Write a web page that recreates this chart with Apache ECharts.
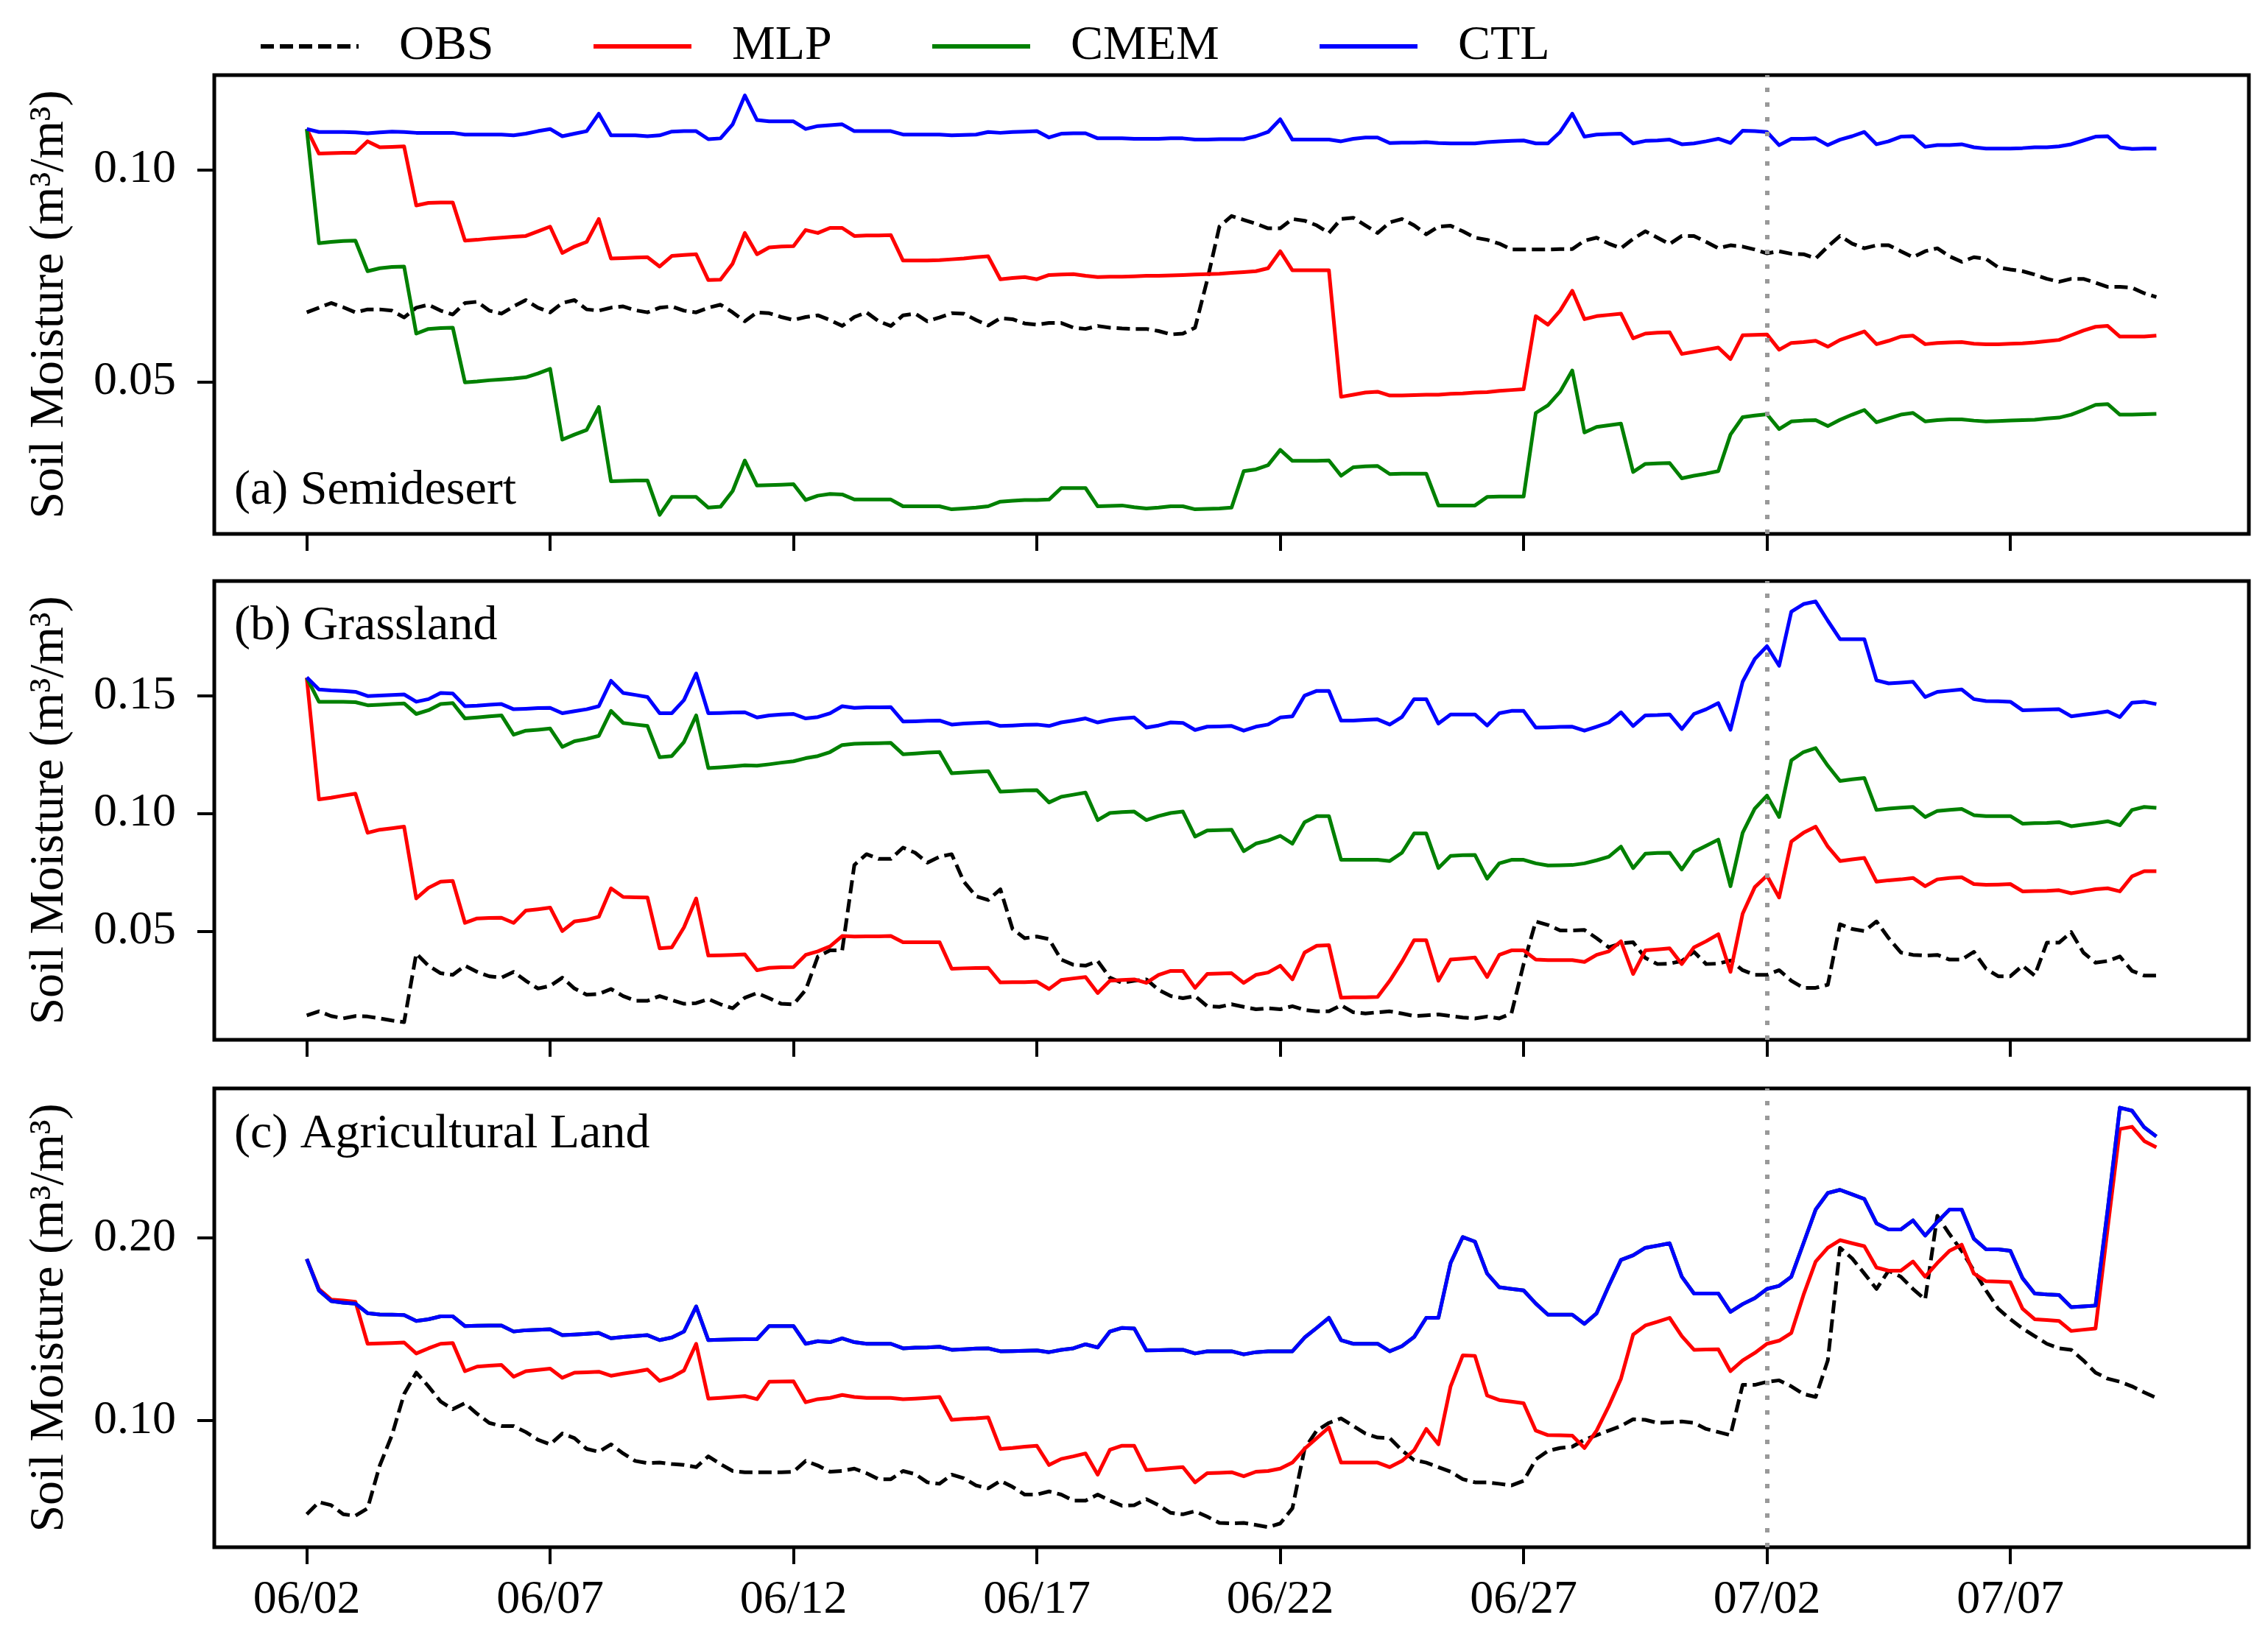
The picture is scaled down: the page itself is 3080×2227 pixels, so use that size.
<!DOCTYPE html>
<html>
<head>
<meta charset="utf-8">
<title>Soil Moisture</title>
<script src="https://cdn.jsdelivr.net/npm/echarts@6/dist/echarts.min.js"></script>
<style>
  html, body { margin: 0; padding: 0; background: #ffffff; }
  #chart { width: 3080px; height: 2227px; }
</style>
</head>
<body>
<div id="chart"></div>
<script>
// samples every 6 h, day 0 = 06/02 00:00 ... day 38 = 07/10 00:00
var STEP_DAYS = 0.25;
var N_SAMPLES = 153;
var X_TICK_DAYS = [0, 5, 10, 15, 20, 25, 30, 35];
var X_TICK_LABELS = ['06/02', '06/07', '06/12', '06/17', '06/22', '06/27', '07/02', '07/07'];
var REF_DAY = 30; // dotted line at 07/02

var SERIES_NAMES = ['OBS', 'MLP', 'CMEM', 'CTL'];
var PANEL_TITLES = ['(a) Semidesert', '(b) Grassland', '(c) Agricultural Land'];
var Y_NAME = 'Soil Moisture (m\u00b3/m\u00b3)';

var Y_TICKS_A = [0.05, 0.10];
var Y_TICKS_B = [0.05, 0.10, 0.15];
var Y_TICKS_C = [0.10, 0.20];
var Y_RANGE_A = [0.0142, 0.1223];
var Y_RANGE_B = [0.0038, 0.1988];
var Y_RANGE_C = [0.0308, 0.2818];

// ---- (a) Semidesert ----
var OBS_A = [
  0.0664, 0.0675, 0.0686, 0.0676, 0.0664, 0.0671, 0.0671, 0.0668, 0.0652, 0.0675,
  0.0682, 0.0668, 0.0659, 0.0686, 0.0689, 0.0668, 0.0661, 0.0678, 0.0693, 0.0675,
  0.0664, 0.0686, 0.0693, 0.0671, 0.0668, 0.0675, 0.0678, 0.0669, 0.0664, 0.0675,
  0.0678, 0.0668, 0.0664, 0.0675, 0.0682, 0.0664, 0.0643, 0.0664, 0.0662, 0.0653,
  0.0646, 0.0653, 0.0657, 0.0646, 0.0632, 0.0653, 0.0664, 0.0643, 0.0632, 0.0657,
  0.0661, 0.0643, 0.0652, 0.0662, 0.0661, 0.0646, 0.0633, 0.0650, 0.0648, 0.0638,
  0.0635, 0.0639, 0.0639, 0.0628, 0.0625, 0.0632, 0.0628, 0.0626, 0.0625, 0.0625,
  0.0620, 0.0612, 0.0614, 0.0628, 0.0740, 0.0866, 0.0891, 0.0882, 0.0873, 0.0862,
  0.0862, 0.0884, 0.0880, 0.0869, 0.0851, 0.0884, 0.0887, 0.0869, 0.0851, 0.0876,
  0.0884, 0.0869, 0.0848, 0.0866, 0.0868, 0.0855, 0.0840, 0.0835, 0.0826, 0.0812,
  0.0812, 0.0812, 0.0812, 0.0813, 0.0813, 0.0833, 0.0840, 0.0826, 0.0815, 0.0837,
  0.0855, 0.0840, 0.0825, 0.0844, 0.0844, 0.0830, 0.0815, 0.0822, 0.0819, 0.0812,
  0.0803, 0.0808, 0.0802, 0.0801, 0.0791, 0.0819, 0.0844, 0.0826, 0.0815, 0.0822,
  0.0822, 0.0808, 0.0794, 0.0808, 0.0815, 0.0796, 0.0783, 0.0794, 0.0790, 0.0770,
  0.0765, 0.0761, 0.0753, 0.0743, 0.0736, 0.0743, 0.0743, 0.0734, 0.0724, 0.0724,
  0.0722, 0.0709, 0.0700
];
var MLP_A = [
  0.1096, 0.1038, 0.1039, 0.1040, 0.1040, 0.1067, 0.1053, 0.1054, 0.1055, 0.0916,
  0.0922, 0.0923, 0.0923, 0.0833, 0.0835, 0.0838, 0.0840, 0.0842, 0.0844, 0.0855,
  0.0866, 0.0804, 0.0819, 0.0830, 0.0884, 0.0791, 0.0792, 0.0793, 0.0794, 0.0772,
  0.0797, 0.0799, 0.0801, 0.0740, 0.0741, 0.0779, 0.0851, 0.0801, 0.0817, 0.0819,
  0.0820, 0.0858, 0.0851, 0.0863, 0.0863, 0.0844, 0.0845, 0.0845, 0.0846, 0.0786,
  0.0786, 0.0786, 0.0787, 0.0789, 0.0791, 0.0794, 0.0796, 0.0742, 0.0745, 0.0747,
  0.0742, 0.0752, 0.0753, 0.0754, 0.0750, 0.0747, 0.0748, 0.0748, 0.0749, 0.0750,
  0.0750, 0.0751, 0.0752, 0.0753, 0.0754, 0.0755, 0.0757, 0.0759, 0.0761, 0.0768,
  0.0808, 0.0763, 0.0763, 0.0763, 0.0763, 0.0465, 0.0470, 0.0475, 0.0477, 0.0468,
  0.0468, 0.0469, 0.0470, 0.0470, 0.0472, 0.0473, 0.0475, 0.0476, 0.0479, 0.0481,
  0.0483, 0.0655, 0.0635, 0.0668, 0.0715, 0.0648, 0.0655, 0.0658, 0.0661, 0.0603,
  0.0614, 0.0616, 0.0617, 0.0566, 0.0571, 0.0576, 0.0581, 0.0554, 0.0610, 0.0611,
  0.0612, 0.0576, 0.0592, 0.0594, 0.0597, 0.0583, 0.0599, 0.0609, 0.0619, 0.0589,
  0.0597, 0.0607, 0.0609, 0.0589, 0.0592, 0.0593, 0.0594, 0.0590, 0.0589, 0.0589,
  0.0590, 0.0591, 0.0593, 0.0596, 0.0599, 0.0610, 0.0621, 0.0630, 0.0632, 0.0607,
  0.0607, 0.0607, 0.0609
];
var CMEM_A = [
  0.1096, 0.0827, 0.0830, 0.0832, 0.0833, 0.0761, 0.0768, 0.0771, 0.0772, 0.0614,
  0.0625, 0.0627, 0.0628, 0.0499, 0.0501, 0.0504, 0.0506, 0.0508, 0.0511, 0.0520,
  0.0531, 0.0364, 0.0376, 0.0387, 0.0441, 0.0266, 0.0267, 0.0268, 0.0268, 0.0187,
  0.0229, 0.0229, 0.0229, 0.0204, 0.0206, 0.0243, 0.0315, 0.0256, 0.0257, 0.0258,
  0.0259, 0.0222, 0.0232, 0.0236, 0.0235, 0.0223, 0.0223, 0.0223, 0.0223, 0.0207,
  0.0207, 0.0207, 0.0207, 0.0200, 0.0202, 0.0204, 0.0207, 0.0218, 0.0220, 0.0222,
  0.0222, 0.0223, 0.0250, 0.0250, 0.0250, 0.0207, 0.0208, 0.0209, 0.0205, 0.0202,
  0.0204, 0.0207, 0.0207, 0.0200, 0.0201, 0.0202, 0.0204, 0.0290, 0.0294, 0.0304,
  0.0340, 0.0314, 0.0314, 0.0314, 0.0315, 0.0279, 0.0299, 0.0301, 0.0302, 0.0283,
  0.0284, 0.0284, 0.0284, 0.0209, 0.0209, 0.0209, 0.0209, 0.0229, 0.0230, 0.0230,
  0.0230, 0.0427, 0.0445, 0.0477, 0.0527, 0.0381, 0.0394, 0.0398, 0.0402, 0.0288,
  0.0307, 0.0308, 0.0309, 0.0273, 0.0279, 0.0284, 0.0290, 0.0376, 0.0417, 0.0421,
  0.0424, 0.0389, 0.0407, 0.0409, 0.0410, 0.0396, 0.0411, 0.0423, 0.0434, 0.0405,
  0.0414, 0.0423, 0.0427, 0.0407, 0.0410, 0.0412, 0.0412, 0.0409, 0.0407, 0.0408,
  0.0409, 0.0410, 0.0411, 0.0414, 0.0416, 0.0423, 0.0434, 0.0446, 0.0448, 0.0423,
  0.0423, 0.0424, 0.0425
];
var CTL_A = [
  0.1096, 0.1089, 0.1089, 0.1089, 0.1088, 0.1086, 0.1088, 0.1090, 0.1089, 0.1087,
  0.1087, 0.1087, 0.1087, 0.1083, 0.1083, 0.1083, 0.1083, 0.1081, 0.1085, 0.1091,
  0.1096, 0.1079, 0.1085, 0.1091, 0.1132, 0.1081, 0.1081, 0.1081, 0.1079, 0.1081,
  0.1090, 0.1091, 0.1091, 0.1072, 0.1074, 0.1107, 0.1175, 0.1117, 0.1114, 0.1114,
  0.1114, 0.1096, 0.1103, 0.1105, 0.1107, 0.1091, 0.1091, 0.1091, 0.1091, 0.1083,
  0.1083, 0.1083, 0.1083, 0.1081, 0.1082, 0.1083, 0.1089, 0.1087, 0.1089, 0.1090,
  0.1091, 0.1076, 0.1085, 0.1086, 0.1086, 0.1074, 0.1074, 0.1074, 0.1073, 0.1073,
  0.1073, 0.1074, 0.1074, 0.1071, 0.1071, 0.1072, 0.1072, 0.1072, 0.1079, 0.1089,
  0.1119, 0.1071, 0.1071, 0.1071, 0.1071, 0.1067, 0.1073, 0.1076, 0.1076, 0.1063,
  0.1064, 0.1064, 0.1065, 0.1063, 0.1062, 0.1062, 0.1062, 0.1065, 0.1067, 0.1068,
  0.1069, 0.1062, 0.1062, 0.1089, 0.1132, 0.1078, 0.1083, 0.1084, 0.1085, 0.1062,
  0.1068, 0.1069, 0.1071, 0.1060, 0.1062, 0.1067, 0.1073, 0.1063, 0.1092, 0.1091,
  0.1089, 0.1058, 0.1073, 0.1073, 0.1074, 0.1058, 0.1071, 0.1079, 0.1089, 0.1060,
  0.1067, 0.1078, 0.1079, 0.1054, 0.1058, 0.1058, 0.1060, 0.1053, 0.1050, 0.1050,
  0.1050, 0.1051, 0.1053, 0.1053, 0.1055, 0.1060, 0.1069, 0.1078, 0.1079, 0.1053,
  0.1049, 0.1050, 0.1050
];

// ---- (b) Grassland ----
var OBS_B = [
  0.0142, 0.0159, 0.0139, 0.0129, 0.0139, 0.0137, 0.0129, 0.0120, 0.0113, 0.0405,
  0.0353, 0.0321, 0.0314, 0.0353, 0.0327, 0.0308, 0.0302, 0.0327, 0.0289, 0.0256,
  0.0267, 0.0302, 0.0256, 0.0230, 0.0233, 0.0254, 0.0224, 0.0204, 0.0204, 0.0224,
  0.0207, 0.0191, 0.0194, 0.0211, 0.0189, 0.0172, 0.0217, 0.0237, 0.0215, 0.0191,
  0.0189, 0.0250, 0.0392, 0.0418, 0.0418, 0.0781, 0.0827, 0.0807, 0.0807, 0.0855,
  0.0833, 0.0791, 0.0816, 0.0827, 0.0710, 0.0648, 0.0632, 0.0678, 0.0509, 0.0470,
  0.0477, 0.0466, 0.0379, 0.0357, 0.0353, 0.0373, 0.0302, 0.0280, 0.0289, 0.0295,
  0.0250, 0.0224, 0.0215, 0.0224, 0.0181, 0.0178, 0.0189, 0.0178, 0.0168, 0.0172,
  0.0168, 0.0181, 0.0165, 0.0159, 0.0159, 0.0185, 0.0155, 0.0150, 0.0155, 0.0159,
  0.0150, 0.0139, 0.0142, 0.0146, 0.0139, 0.0133, 0.0129, 0.0137, 0.0129, 0.0150,
  0.0360, 0.0541, 0.0526, 0.0503, 0.0503, 0.0505, 0.0470, 0.0431, 0.0448, 0.0453,
  0.0386, 0.0360, 0.0362, 0.0373, 0.0412, 0.0360, 0.0362, 0.0375, 0.0334, 0.0314,
  0.0314, 0.0334, 0.0289, 0.0259, 0.0259, 0.0272, 0.0529, 0.0509, 0.0500, 0.0541,
  0.0470, 0.0409, 0.0399, 0.0396, 0.0399, 0.0379, 0.0379, 0.0412, 0.0340, 0.0308,
  0.0308, 0.0353, 0.0311, 0.0451, 0.0451, 0.0496, 0.0409, 0.0366, 0.0373, 0.0392,
  0.0331, 0.0311, 0.0311
];
var MLP_B = [
  0.1577, 0.1060, 0.1067, 0.1076, 0.1084, 0.0918, 0.0931, 0.0937, 0.0944, 0.0639,
  0.0684, 0.0710, 0.0713, 0.0535, 0.0554, 0.0556, 0.0557, 0.0535, 0.0587, 0.0593,
  0.0600, 0.0500, 0.0541, 0.0548, 0.0561, 0.0682, 0.0645, 0.0644, 0.0643, 0.0427,
  0.0431, 0.0516, 0.0639, 0.0396, 0.0397, 0.0399, 0.0401, 0.0334, 0.0344, 0.0346,
  0.0347, 0.0399, 0.0414, 0.0435, 0.0479, 0.0477, 0.0478, 0.0478, 0.0479, 0.0453,
  0.0453, 0.0453, 0.0453, 0.0340, 0.0342, 0.0343, 0.0344, 0.0282, 0.0283, 0.0283,
  0.0285, 0.0254, 0.0292, 0.0299, 0.0305, 0.0237, 0.0289, 0.0292, 0.0295, 0.0280,
  0.0314, 0.0331, 0.0331, 0.0259, 0.0318, 0.0320, 0.0321, 0.0280, 0.0314, 0.0324,
  0.0353, 0.0295, 0.0409, 0.0438, 0.0440, 0.0217, 0.0219, 0.0219, 0.0220, 0.0289,
  0.0370, 0.0461, 0.0461, 0.0289, 0.0379, 0.0383, 0.0388, 0.0305, 0.0399, 0.0418,
  0.0418, 0.0379, 0.0377, 0.0377, 0.0377, 0.0369, 0.0399, 0.0414, 0.0457, 0.0318,
  0.0418, 0.0422, 0.0427, 0.0360, 0.0431, 0.0457, 0.0487, 0.0327, 0.0574, 0.0687,
  0.0736, 0.0643, 0.0881, 0.0918, 0.0944, 0.0859, 0.0798, 0.0805, 0.0811, 0.0710,
  0.0716, 0.0720, 0.0726, 0.0691, 0.0720, 0.0726, 0.0729, 0.0700, 0.0697, 0.0698,
  0.0700, 0.0669, 0.0670, 0.0671, 0.0674, 0.0661, 0.0669, 0.0678, 0.0682, 0.0669,
  0.0733, 0.0755, 0.0755
];
var CMEM_B = [
  0.1577, 0.1475, 0.1475, 0.1475, 0.1473, 0.1460, 0.1462, 0.1465, 0.1468, 0.1423,
  0.1439, 0.1465, 0.1469, 0.1404, 0.1408, 0.1413, 0.1417, 0.1335, 0.1352, 0.1356,
  0.1361, 0.1283, 0.1307, 0.1317, 0.1330, 0.1436, 0.1385, 0.1378, 0.1372, 0.1239,
  0.1244, 0.1304, 0.1417, 0.1193, 0.1196, 0.1200, 0.1205, 0.1203, 0.1209, 0.1216,
  0.1222, 0.1235, 0.1244, 0.1261, 0.1291, 0.1296, 0.1298, 0.1299, 0.1300, 0.1252,
  0.1255, 0.1259, 0.1261, 0.1171, 0.1174, 0.1177, 0.1180, 0.1093, 0.1095, 0.1098,
  0.1099, 0.1047, 0.1071, 0.1080, 0.1089, 0.0972, 0.1002, 0.1006, 0.1008, 0.0972,
  0.0989, 0.1002, 0.1008, 0.0902, 0.0928, 0.0929, 0.0931, 0.0840, 0.0872, 0.0885,
  0.0905, 0.0872, 0.0963, 0.0989, 0.0989, 0.0803, 0.0803, 0.0803, 0.0803, 0.0798,
  0.0833, 0.0915, 0.0915, 0.0768, 0.0820, 0.0823, 0.0824, 0.0723, 0.0788, 0.0803,
  0.0803, 0.0788, 0.0779, 0.0780, 0.0781, 0.0788, 0.0801, 0.0816, 0.0859, 0.0768,
  0.0829, 0.0832, 0.0833, 0.0762, 0.0837, 0.0863, 0.0889, 0.0691, 0.0918, 0.1021,
  0.1076, 0.0985, 0.1226, 0.1261, 0.1278, 0.1203, 0.1138, 0.1145, 0.1151, 0.1015,
  0.1021, 0.1025, 0.1028, 0.0985, 0.1011, 0.1015, 0.1019, 0.0993, 0.0989, 0.0989,
  0.0989, 0.0957, 0.0959, 0.0960, 0.0963, 0.0946, 0.0953, 0.0959, 0.0967, 0.0950,
  0.1015, 0.1028, 0.1024
];
var CTL_B = [
  0.1579, 0.1527, 0.1523, 0.1521, 0.1517, 0.1499, 0.1501, 0.1504, 0.1506, 0.1475,
  0.1486, 0.1512, 0.1510, 0.1456, 0.1458, 0.1462, 0.1465, 0.1443, 0.1445, 0.1448,
  0.1449, 0.1426, 0.1435, 0.1443, 0.1456, 0.1564, 0.1512, 0.1504, 0.1495, 0.1426,
  0.1426, 0.1482, 0.1595, 0.1426, 0.1427, 0.1429, 0.1430, 0.1408, 0.1417, 0.1421,
  0.1423, 0.1404, 0.1410, 0.1426, 0.1456, 0.1449, 0.1451, 0.1451, 0.1452, 0.1391,
  0.1392, 0.1394, 0.1395, 0.1378, 0.1382, 0.1385, 0.1387, 0.1372, 0.1374, 0.1377,
  0.1378, 0.1372, 0.1387, 0.1395, 0.1404, 0.1387, 0.1398, 0.1404, 0.1408, 0.1365,
  0.1374, 0.1387, 0.1385, 0.1355, 0.1369, 0.1370, 0.1372, 0.1352, 0.1369, 0.1378,
  0.1408, 0.1413, 0.1501, 0.1521, 0.1521, 0.1395, 0.1395, 0.1398, 0.1400, 0.1378,
  0.1410, 0.1486, 0.1486, 0.1382, 0.1421, 0.1421, 0.1421, 0.1374, 0.1426, 0.1436,
  0.1436, 0.1365, 0.1366, 0.1368, 0.1369, 0.1352, 0.1369, 0.1387, 0.1430, 0.1372,
  0.1417, 0.1418, 0.1421, 0.1359, 0.1423, 0.1443, 0.1469, 0.1356, 0.1560, 0.1657,
  0.1711, 0.1628, 0.1858, 0.1890, 0.1901, 0.1819, 0.1741, 0.1741, 0.1741, 0.1566,
  0.1553, 0.1556, 0.1560, 0.1495, 0.1517, 0.1522, 0.1527, 0.1486, 0.1478, 0.1477,
  0.1475, 0.1439, 0.1440, 0.1442, 0.1443, 0.1413, 0.1420, 0.1426, 0.1434, 0.1410,
  0.1471, 0.1475, 0.1465
];

// ---- (c) Agricultural Land ----
var OBS_C = [
  0.0488, 0.0555, 0.0538, 0.0488, 0.0480, 0.0521, 0.0755, 0.0921, 0.1146, 0.1263,
  0.1188, 0.1105, 0.1063, 0.1096, 0.1038, 0.0988, 0.0971, 0.0971, 0.0938, 0.0896,
  0.0871, 0.0930, 0.0905, 0.0846, 0.0830, 0.0871, 0.0821, 0.0780, 0.0768, 0.0771,
  0.0763, 0.0758, 0.0746, 0.0805, 0.0763, 0.0725, 0.0718, 0.0718, 0.0718, 0.0718,
  0.0721, 0.0780, 0.0755, 0.0721, 0.0725, 0.0738, 0.0713, 0.0680, 0.0680, 0.0725,
  0.0708, 0.0663, 0.0655, 0.0705, 0.0685, 0.0646, 0.0630, 0.0671, 0.0638, 0.0596,
  0.0596, 0.0613, 0.0596, 0.0563, 0.0563, 0.0596, 0.0563, 0.0535, 0.0538, 0.0571,
  0.0538, 0.0496, 0.0488, 0.0505, 0.0475, 0.0441, 0.0438, 0.0441, 0.0430, 0.0418,
  0.0438, 0.0521, 0.0846, 0.0946, 0.0988, 0.1013, 0.0971, 0.0930, 0.0908, 0.0905,
  0.0838, 0.0785, 0.0771, 0.0746, 0.0721, 0.0680, 0.0663, 0.0663, 0.0655, 0.0646,
  0.0671, 0.0788, 0.0835, 0.0851, 0.0858, 0.0896, 0.0921, 0.0946, 0.0971, 0.1008,
  0.1005, 0.0988, 0.0991, 0.0996, 0.0988, 0.0955, 0.0938, 0.0921, 0.1196, 0.1196,
  0.1213, 0.1221, 0.1188, 0.1146, 0.1130, 0.1330, 0.1946, 0.1888, 0.1805, 0.1721,
  0.1821, 0.1788, 0.1721, 0.1663, 0.2121, 0.2021, 0.1930, 0.1821, 0.1713, 0.1613,
  0.1555, 0.1505, 0.1463, 0.1421, 0.1396, 0.1388, 0.1330, 0.1263, 0.1230, 0.1213,
  0.1188, 0.1155, 0.1125
];
var MLP_C = [
  0.1885, 0.1721, 0.1663, 0.1658, 0.1651, 0.1421, 0.1423, 0.1425, 0.1428, 0.1368,
  0.1396, 0.1421, 0.1425, 0.1271, 0.1296, 0.1301, 0.1305, 0.1241, 0.1271, 0.1278,
  0.1285, 0.1235, 0.1263, 0.1265, 0.1268, 0.1246, 0.1258, 0.1268, 0.1280, 0.1218,
  0.1238, 0.1275, 0.1421, 0.1121, 0.1125, 0.1130, 0.1135, 0.1118, 0.1213, 0.1215,
  0.1216, 0.1101, 0.1118, 0.1125, 0.1141, 0.1130, 0.1125, 0.1125, 0.1125, 0.1118,
  0.1121, 0.1125, 0.1130, 0.1005, 0.1010, 0.1013, 0.1018, 0.0846, 0.0851, 0.0858,
  0.0863, 0.0758, 0.0791, 0.0805, 0.0821, 0.0705, 0.0841, 0.0863, 0.0863, 0.0730,
  0.0735, 0.0741, 0.0746, 0.0663, 0.0713, 0.0715, 0.0718, 0.0696, 0.0721, 0.0725,
  0.0738, 0.0771, 0.0846, 0.0905, 0.0963, 0.0771, 0.0771, 0.0771, 0.0771, 0.0746,
  0.0780, 0.0838, 0.0955, 0.0871, 0.1188, 0.1358, 0.1355, 0.1138, 0.1113, 0.1105,
  0.1096, 0.0946, 0.0921, 0.0920, 0.0918, 0.0851, 0.0946, 0.1080, 0.1230, 0.1471,
  0.1521, 0.1541, 0.1563, 0.1463, 0.1388, 0.1390, 0.1391, 0.1271, 0.1330, 0.1371,
  0.1421, 0.1438, 0.1480, 0.1688, 0.1871, 0.1946, 0.1988, 0.1971, 0.1955, 0.1838,
  0.1821, 0.1821, 0.1871, 0.1788, 0.1863, 0.1930, 0.1963, 0.1805, 0.1763, 0.1761,
  0.1758, 0.1613, 0.1555, 0.1551, 0.1546, 0.1491, 0.1498, 0.1505, 0.2055, 0.2596,
  0.2608, 0.2530, 0.2496
];
var CTL_C = [
  0.1885, 0.1713, 0.1655, 0.1646, 0.1641, 0.1588, 0.1581, 0.1580, 0.1578, 0.1546,
  0.1555, 0.1571, 0.1571, 0.1518, 0.1520, 0.1521, 0.1521, 0.1488, 0.1495, 0.1498,
  0.1501, 0.1468, 0.1471, 0.1475, 0.1480, 0.1451, 0.1458, 0.1463, 0.1468, 0.1441,
  0.1455, 0.1488, 0.1625, 0.1441, 0.1443, 0.1445, 0.1446, 0.1446, 0.1518, 0.1518,
  0.1518, 0.1421, 0.1435, 0.1430, 0.1451, 0.1430, 0.1421, 0.1421, 0.1421, 0.1396,
  0.1400, 0.1401, 0.1405, 0.1388, 0.1391, 0.1395, 0.1396, 0.1380, 0.1381, 0.1383,
  0.1385, 0.1375, 0.1388, 0.1396, 0.1418, 0.1401, 0.1488, 0.1508, 0.1505, 0.1385,
  0.1386, 0.1388, 0.1388, 0.1368, 0.1380, 0.1380, 0.1380, 0.1363, 0.1375, 0.1380,
  0.1380, 0.1380, 0.1455, 0.1508, 0.1563, 0.1441, 0.1421, 0.1421, 0.1421, 0.1380,
  0.1408, 0.1458, 0.1563, 0.1563, 0.1863, 0.2005, 0.1980, 0.1805, 0.1730, 0.1721,
  0.1713, 0.1641, 0.1580, 0.1580, 0.1580, 0.1530, 0.1588, 0.1738, 0.1880, 0.1905,
  0.1946, 0.1958, 0.1971, 0.1788, 0.1696, 0.1696, 0.1696, 0.1596, 0.1638, 0.1671,
  0.1721, 0.1738, 0.1788, 0.1971, 0.2155, 0.2246, 0.2263, 0.2238, 0.2213, 0.2080,
  0.2046, 0.2046, 0.2096, 0.2013, 0.2088, 0.2155, 0.2155, 0.1996, 0.1938, 0.1938,
  0.1930, 0.1780, 0.1696, 0.1691, 0.1688, 0.1621, 0.1625, 0.1630, 0.2155, 0.2713,
  0.2696, 0.2605, 0.2555
];
// CMEM lies exactly under CTL in panel (c), so it reads the same
var CMEM_C = CTL_C;

var DAYS = [];
for (var i = 0; i < N_SAMPLES; i++) DAYS.push(i * STEP_DAYS);

var FONT = 'Liberation Serif';
var COLORS = { OBS: '#000000', MLP: '#ff0000', CMEM: '#008000', CTL: '#0000ff' };
var LINE_W = 5;

var panels = [
  { title: PANEL_TITLES[0], ticks: Y_TICKS_A, range: Y_RANGE_A, data: [OBS_A, MLP_A, CMEM_A, CTL_A] },
  { title: PANEL_TITLES[1], ticks: Y_TICKS_B, range: Y_RANGE_B, data: [OBS_B, MLP_B, CMEM_B, CTL_B] },
  { title: PANEL_TITLES[2], ticks: Y_TICKS_C, range: Y_RANGE_C, data: [OBS_C, MLP_C, CMEM_C, CTL_C] }
];

var gridTops = [102, 789, 1478];
var titleTops = [634, 818, 1508];
var legendLefts = [351, 803, 1263, 1789];

var option = {
  animation: false,
  backgroundColor: '#ffffff',
  textStyle: { fontFamily: FONT, color: '#000' },
  title: panels.map(function (p, i) {
    return {
      text: p.title, left: 318, top: titleTops[i], padding: 0,
      textStyle: { fontFamily: FONT, fontSize: 66, fontWeight: 'normal', color: '#000' }
    };
  }),
  legend: SERIES_NAMES.map(function (n, k) {
    return {
      data: [n], left: legendLefts[k], top: 30, padding: 0,
      itemWidth: 133, itemHeight: 20, selectedMode: false,
      itemStyle: { opacity: 0 },
      lineStyle: { width: 6 },
      textStyle: { fontFamily: FONT, fontSize: 66, color: '#000', padding: [0, 0, 0, 50] }
    };
  }),
  grid: panels.map(function (p, i) {
    return {
      left: 291, right: 26, top: gridTops[i], height: 623,
      show: true, borderColor: '#000', borderWidth: 5, backgroundColor: 'transparent'
    };
  }),
  xAxis: panels.map(function (p, i) {
    return {
      type: 'value', gridIndex: i, min: -1.9, max: 39.9,
      axisLine: { show: false, onZero: false }, splitLine: { show: false },
      axisTick: { show: true, customValues: X_TICK_DAYS, length: 23, lineStyle: { color: '#000', width: 4 } },
      axisLabel: {
        show: i === 2, customValues: X_TICK_DAYS, margin: 40,
        fontFamily: FONT, fontSize: 64, color: '#000',
        formatter: function (v) { return X_TICK_LABELS[X_TICK_DAYS.indexOf(v)]; }
      }
    };
  }),
  yAxis: panels.map(function (p, i) {
    return {
      type: 'value', gridIndex: i, min: p.range[0], max: p.range[1],
      axisLine: { show: false, onZero: false }, splitLine: { show: false },
      axisTick: { show: true, customValues: p.ticks, length: 23, lineStyle: { color: '#000', width: 4 } },
      axisLabel: {
        customValues: p.ticks, margin: 52,
        fontFamily: FONT, fontSize: 64, color: '#000',
        formatter: function (v) { return v.toFixed(2); }
      },
      name: Y_NAME, nameLocation: 'middle', nameGap: 190,
      nameTextStyle: { fontFamily: FONT, fontSize: 66, color: '#000' }
    };
  }),
  series: []
};

panels.forEach(function (p, i) {
  SERIES_NAMES.forEach(function (name, k) {
    var vals = p.data[k];
    var s = {
      name: name, type: 'line', xAxisIndex: i, yAxisIndex: i,
      symbol: 'none', showSymbol: false, silent: true,
      data: DAYS.map(function (d, j) { return [d, vals[j]]; }),
      lineStyle: {
        color: COLORS[name], width: LINE_W,
        type: name === 'OBS' ? [18, 8] : 'solid',
        join: 'round', cap: 'butt'
      },
      itemStyle: { color: COLORS[name] }
    };
    if (name === 'CTL') {
      s.markLine = {
        silent: true, symbol: 'none', label: { show: false },
        lineStyle: { color: '#999999', width: 6, type: [6, 14] },
        data: [{ xAxis: REF_DAY }]
      };
    }
    option.series.push(s);
  });
});

var chart = echarts.init(document.getElementById('chart'));
chart.setOption(option);
</script>
</body>
</html>
